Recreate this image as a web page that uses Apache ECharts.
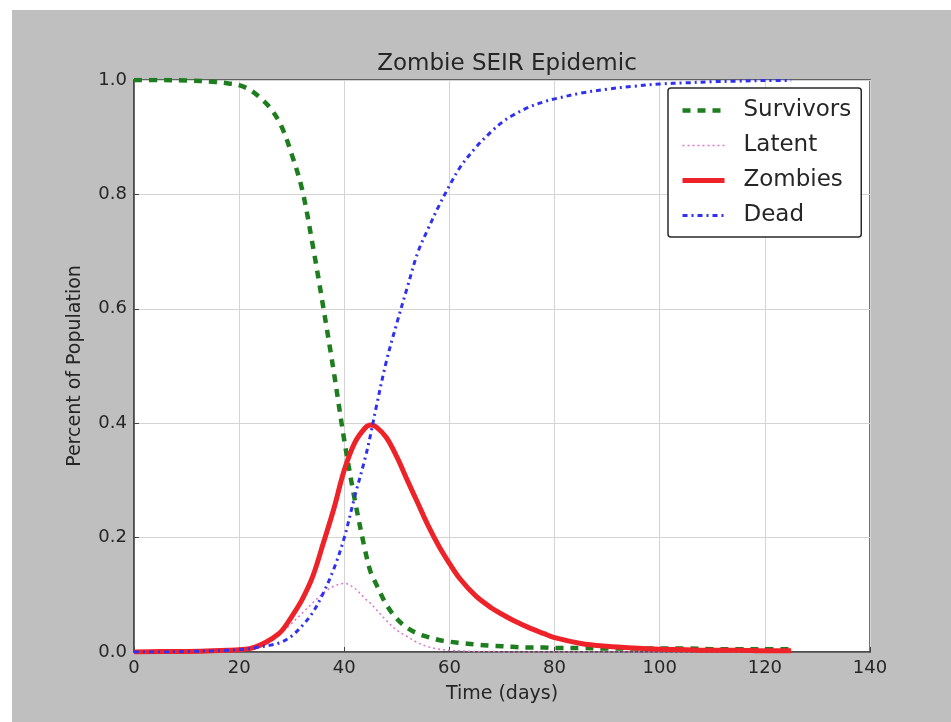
<!DOCTYPE html>
<html>
<head>
<meta charset="utf-8">
<title>Zombie SEIR Epidemic</title>
<script src="https://cdn.jsdelivr.net/npm/echarts@6/dist/echarts.min.js"></script>
<style>
  html, body { margin: 0; padding: 0; background: #fff; }
  #chart { width: 951px; height: 722px; }
</style>
</head>
<body>
<div id="chart"></div>
<script>
// values
var days = [0, 5, 10, 15, 18, 20, 22, 24, 26, 28, 30, 32, 34, 36, 38, 40, 42, 44, 45, 46, 48, 50,
  52, 54, 56, 58, 60, 62, 65, 68, 70, 72, 75, 78, 80, 85, 90, 95, 100, 105, 110, 115, 120, 125];

var survivors = [1.0, 1.0, 0.999, 0.997, 0.994, 0.991, 0.983, 0.969, 0.95, 0.92, 0.87, 0.808, 0.711, 0.603, 0.49, 0.37, 0.266, 0.176, 0.14, 0.12, 0.083, 0.058,
  0.042, 0.032, 0.026, 0.021, 0.018, 0.016, 0.013, 0.011, 0.01, 0.009, 0.008, 0.008, 0.007, 0.007, 0.006, 0.006, 0.006, 0.006, 0.005, 0.005, 0.005, 0.005];

var latent = [0, 0, 0.0005, 0.002, 0.003, 0.005, 0.007, 0.01, 0.018, 0.033, 0.05, 0.068, 0.086, 0.103, 0.115, 0.12, 0.111, 0.093, 0.085, 0.075, 0.055, 0.038,
  0.027, 0.016, 0.009, 0.005, 0.003, 0.002, 0.001, 0.001, 0, 0, 0, 0, 0, 0, 0, 0, 0, 0, 0, 0, 0, 0];

var zombies = [0, 0.001, 0.001, 0.002, 0.003, 0.004, 0.006, 0.012, 0.022, 0.036, 0.062, 0.092, 0.132, 0.19, 0.25, 0.318, 0.366, 0.392, 0.397, 0.394, 0.375, 0.341,
  0.3, 0.26, 0.22, 0.185, 0.155, 0.128, 0.098, 0.077, 0.066, 0.056, 0.043, 0.032, 0.025, 0.015, 0.01, 0.007, 0.005, 0.004, 0.003, 0.003, 0.002, 0.002];

var dead = [0, 0, 0.001, 0.002, 0.003, 0.004, 0.006, 0.009, 0.012, 0.017, 0.028, 0.046, 0.069, 0.103, 0.145, 0.2, 0.272, 0.34, 0.38, 0.425, 0.508, 0.575,
  0.638, 0.699, 0.741, 0.78, 0.815, 0.847, 0.882, 0.91, 0.926, 0.938, 0.952, 0.962, 0.967, 0.977, 0.984, 0.989, 0.993, 0.995, 0.997, 0.998, 0.999, 0.999];

var seriesNames = ['Survivors', 'Latent', 'Zombies', 'Dead'];
var xTicks = [0, 20, 40, 60, 80, 100, 120, 140];
var yTicks = [0.0, 0.2, 0.4, 0.6, 0.8, 1.0];

function pairs(vals) {
  return days.map(function (d, i) { return [d, vals[i]]; });
}

var font = 'DejaVu Sans';
var colors = ['#1e7d1e', '#dd77cc', '#ee2229', '#3030f0'];
var widths = [4.5, 1.5, 5, 3];
var dashes = [[8, 7], [2, 3], 'solid', [5, 4, 2, 4]];

var chart = echarts.init(document.getElementById('chart'), null, { renderer: 'canvas' });

var series = seriesNames.map(function (name, i) {
  return {
    name: name,
    type: 'line',
    data: pairs([survivors, latent, zombies, dead][i]),
    showSymbol: false,
    symbol: 'none',
    smooth: 0.35,
    z: 2 + i,
    itemStyle: { color: colors[i] },
    lineStyle: { color: colors[i], width: widths[i], type: dashes[i] }
  };
});

var option = {
  backgroundColor: '#ffffff',
  animation: false,
  graphic: [{
    type: 'rect',
    z: -10,
    silent: true,
    shape: { x: 12, y: 10, width: 939, height: 712 },
    style: { fill: '#bfbfbf' }
  }],
  title: {
    text: 'Zombie SEIR Epidemic',
    left: 502,
    textAlign: 'center',
    top: 48,
    textStyle: { fontFamily: font, fontSize: 23, fontWeight: 'normal', color: '#262626' }
  },
  legend: {
    orient: 'vertical',
    left: 668,
    top: 88,
    data: seriesNames.map(function (name, i) {
      return {
        name: name,
        itemStyle: { opacity: 0, color: 'rgba(0,0,0,0)', borderWidth: 0 },
        lineStyle: { color: colors[i], width: widths[i], type: dashes[i], opacity: 1 }
      };
    }),
    backgroundColor: '#ffffff',
    borderColor: '#2a2a2a',
    borderWidth: 1.5,
    borderRadius: 3,
    padding: [11, 10, 10, 12],
    itemWidth: 42,
    itemHeight: 20,
    itemGap: 12,
    textStyle: { fontFamily: font, fontSize: 23, color: '#262626', padding: [0, 0, 0, 14] }
  },
  grid: {
    left: 134,
    right: 81,
    top: 80,
    bottom: 70,
    show: true,
    backgroundColor: '#ffffff',
    borderColor: '#444444',
    borderWidth: 1.5
  },
  xAxis: {
    type: 'value',
    min: xTicks[0],
    max: xTicks[xTicks.length - 1],
    interval: 20,
    name: 'Time (days)',
    nameLocation: 'middle',
    nameGap: 33,
    nameTextStyle: { fontFamily: font, fontSize: 19, color: '#262626' },
    axisLine: { show: true, lineStyle: { color: '#444444', width: 1.5 } },
    axisTick: { show: true, inside: true, length: 5, lineStyle: { color: '#444444' } },
    axisLabel: { fontFamily: font, fontSize: 18, color: '#262626', margin: 7 },
    splitLine: { show: true, lineStyle: { color: '#d4d4d4', width: 1 } }
  },
  yAxis: {
    type: 'value',
    min: yTicks[0],
    max: yTicks[yTicks.length - 1],
    interval: 0.2,
    name: 'Percent of Population',
    nameLocation: 'middle',
    nameGap: 49,
    nameTextStyle: { fontFamily: font, fontSize: 19, color: '#262626' },
    axisLine: { show: true, lineStyle: { color: '#444444', width: 1.5 } },
    axisTick: { show: true, inside: true, length: 5, lineStyle: { color: '#444444' } },
    axisLabel: {
      fontFamily: font, fontSize: 18, color: '#262626', margin: 7,
      formatter: function (v) { return v.toFixed(1); }
    },
    splitLine: { show: true, lineStyle: { color: '#d4d4d4', width: 1 } }
  },
  series: series
};

chart.setOption(option);
</script>
</body>
</html>
